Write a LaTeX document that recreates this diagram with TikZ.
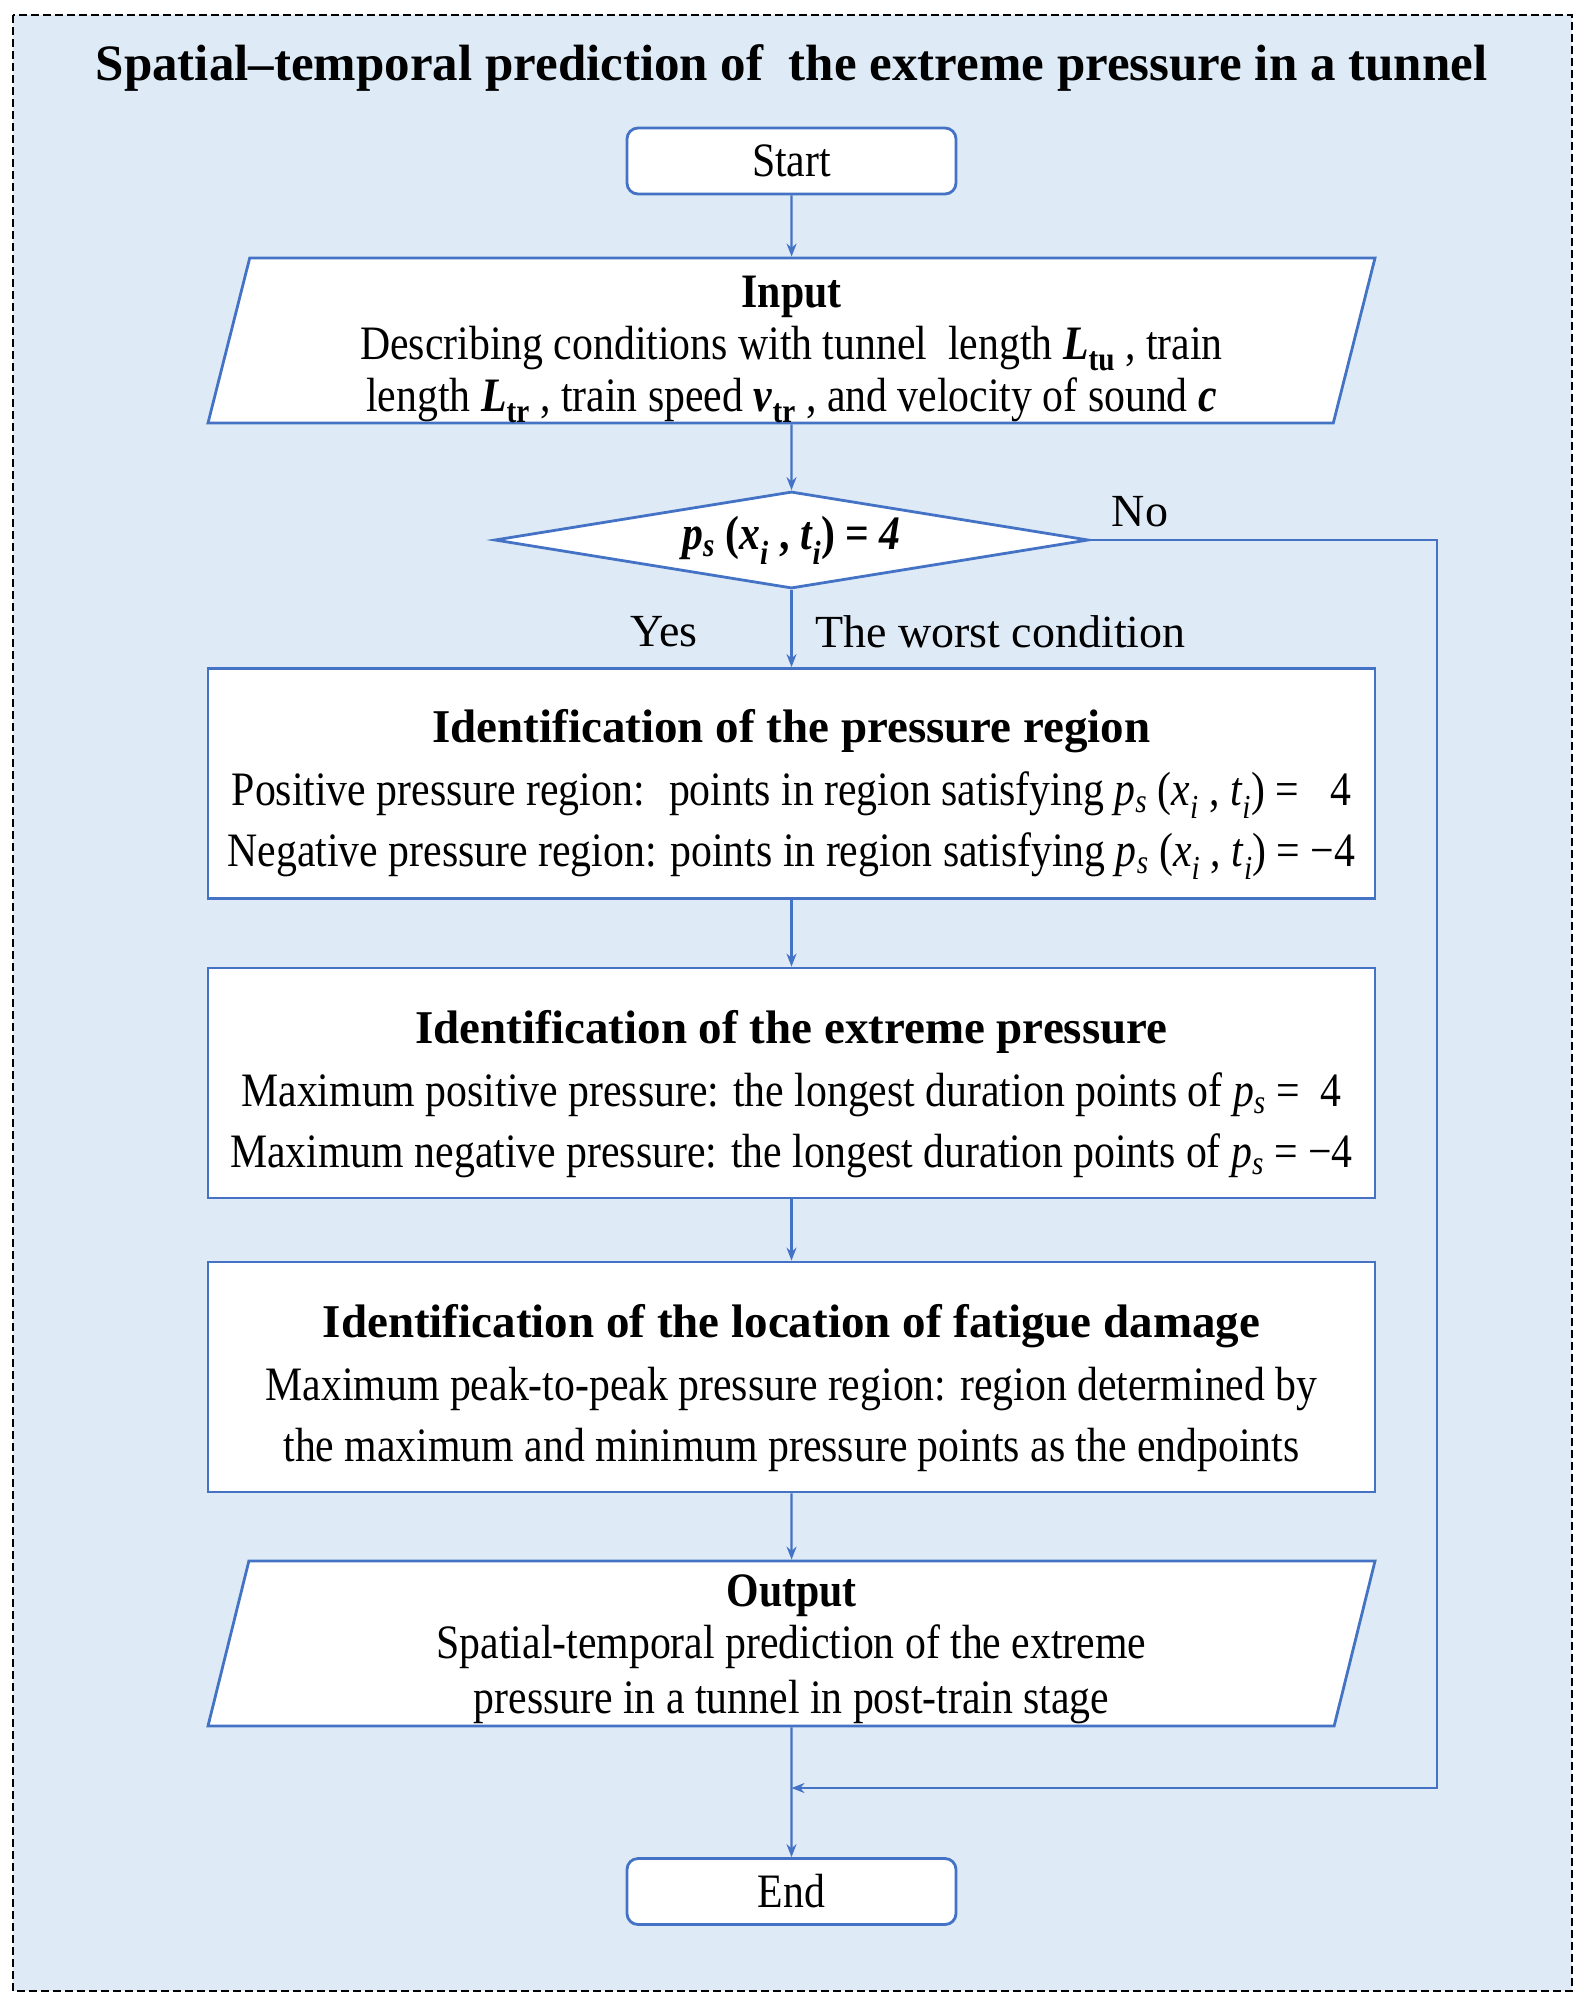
\documentclass[tikz,border=0pt]{standalone}
\usepackage{fontspec}
\setmainfont{Liberation Serif}
\newfontfamily\narrowserif[FakeStretch=0.87]{Liberation Serif}
\usetikzlibrary{shapes.geometric,arrows.meta}

\definecolor{flowblue}{HTML}{4472C4}
\definecolor{panelblue}{HTML}{DEEBF7}

\newcommand{\bodyfont}{\narrowserif\fontsize{48}{61}\selectfont}
\newcommand{\iofont}{\narrowserif\fontsize{48}{52}\selectfont}
\newcommand{\headfont}{\rmfamily\bfseries\fontsize{47}{61}\selectfont}
\newcommand{\labelfont}{\rmfamily\fontsize{46}{52}\selectfont}

\tikzset{
  terminal/.style={rectangle, rounded corners=11pt, draw=flowblue, line width=2.8pt,
    fill=white, minimum width=329pt, minimum height=66pt, inner sep=0pt, font=\bodyfont},
  inout/.style={trapezium, trapezium left angle=75.7, trapezium right angle=104.3,
    trapezium stretches body=true, draw=flowblue, line width=2.8pt, fill=white,
    minimum width=1167pt, minimum height=165pt, inner sep=0pt, align=center, font=\iofont},
  decision/.style={diamond, aspect=6, draw=flowblue, line width=2.8pt, fill=white,
    minimum width=594pt, minimum height=97pt, inner sep=0pt, font=\bodyfont},
  process/.style={rectangle, draw=flowblue, line width=2.8pt, fill=white,
    minimum width=1167pt, minimum height=230pt, inner sep=0pt, align=center, font=\bodyfont},
  flow/.style={draw=flowblue, line width=2.2pt, -{Stealth[length=13pt,width=10pt]}},
  label/.style={inner sep=0pt, font=\labelfont},
}

\begin{document}
\begin{tikzpicture}[x=1pt, y=-1pt]

    % Frame
    \useasboundingbox (0,0) rectangle (1583,2003);
    \draw[fill=panelblue, dash pattern=on 8pt off 4pt, line width=1.6pt] (13,15) rectangle (1572,1991);

    % Title
    \node[inner sep=0pt, font=\fontsize{51}{56}\selectfont\bfseries] (title) at (791.5,68)
        {Spatial–temporal prediction of \ the extreme pressure in a tunnel};

    % Define the steps
    \node[terminal] (start) at (791.5,161) {Start};

    \node[inout] (input) at (791.5,340.5) {%
        \rule{0pt}{49pt}\textbf{Input}\\
        Describing conditions with tunnel \ length \textbf{\textit{L}\textsubscript{tu}} , train\\
        length \textbf{\textit{L}\textsubscript{tr}} , train speed \textbf{\textit{v}\textsubscript{tr}} , and velocity of sound \textbf{\textit{c}}};

    \node[decision] (check) at (791.5,540)
        {\textbf{\textit{p}\textsubscript{\textit{s}} (\textit{x}\textsubscript{\textit{i}} , \textit{t}\textsubscript{\textit{i}}) = \textit{4}}};

    \node[process] (region) at (791.5,783.5) {%
        \rule{0pt}{55pt}{\headfont Identification of the pressure region}\\[2pt]
        Positive pressure region: \ points in region satisfying \textit{p}\textsubscript{\textit{s}} (\textit{x}\textsubscript{\textit{i}} , \textit{t}\textsubscript{\textit{i}}) = \ \ 4\\
        Negative pressure region: points in region satisfying \textit{p}\textsubscript{\textit{s}} (\textit{x}\textsubscript{\textit{i}} , \textit{t}\textsubscript{\textit{i}}) = −4};

    \node[process] (extreme) at (791.5,1083) {%
        \rule{0pt}{55pt}{\headfont Identification of the extreme pressure}\\[2pt]
        Maximum positive pressure: the longest duration points of \textit{p}\textsubscript{\textit{s}} = \ 4\\
        Maximum negative pressure: the longest duration points of \textit{p}\textsubscript{\textit{s}} = −4};

    \node[process] (fatigue) at (791.5,1377) {%
        \rule{0pt}{55pt}{\headfont Identification of the location of fatigue damage}\\[2pt]
        Maximum peak-to-peak pressure region: region determined by\\
        the maximum and minimum pressure points as the endpoints};

    \node[inout] (output) at (791.5,1643.5) {%
        \rule{0pt}{43pt}\textbf{Output}\\
        Spatial-temporal prediction of the extreme\\[3pt]
        pressure in a tunnel in post-train stage};

    \node[terminal] (end) at (791.5,1891.5) {End};

    % Connect the steps
    \draw[flow] (start) -- (input);
    \draw[flow] (input) -- (check);
    \draw[flow] (check) -- (region);
    \draw[flow] (region) -- (extreme);
    \draw[flow] (extreme) -- (fatigue);
    \draw[flow] (fatigue) -- (output);
    \draw[flow] (output) -- (end);

    % The "No" branch
    \coordinate (turn) at (1437,1788);
    \coordinate (merge) at (791.5,1788);
    \draw[flow] (check.east) -| (turn) -- (merge);

    % Branch labels
    \node[label] (no) at (1140,512) {No};
    \node[label] (yes) at (664,632) {Yes};
    \node[label, anchor=west] (worst) at (815,632) {The worst condition};

\end{tikzpicture}
\end{document}
